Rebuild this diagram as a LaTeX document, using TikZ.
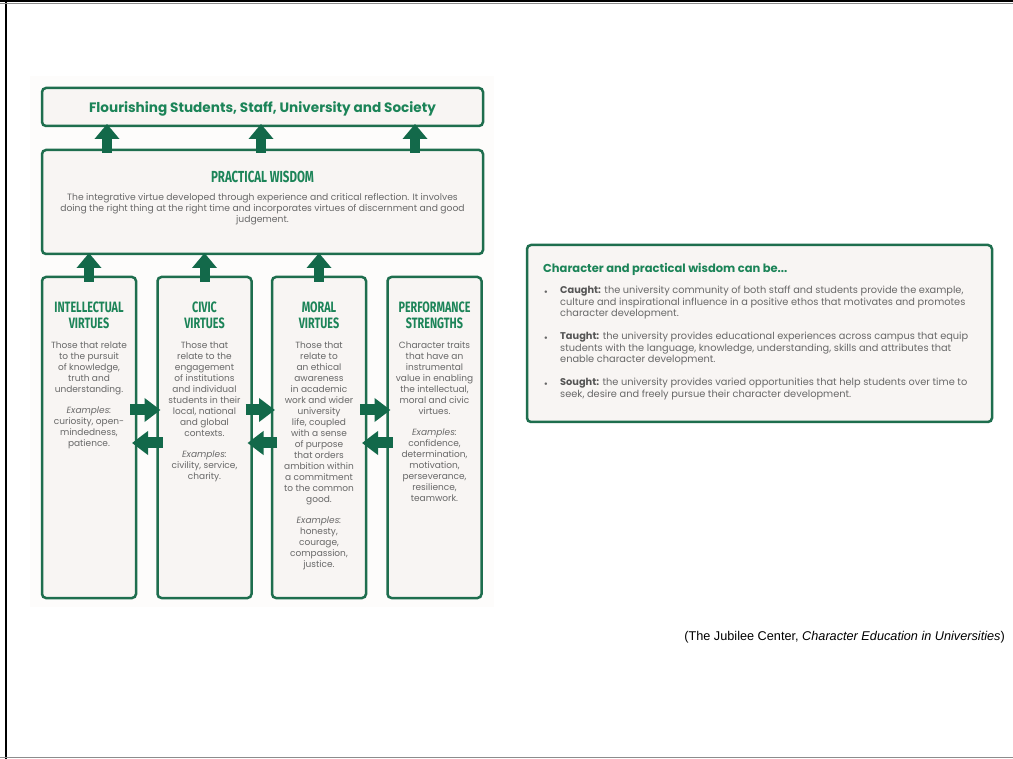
\documentclass[tikz,border=0pt]{standalone}
\usepackage{fontspec}
\setmainfont{Poppins}
\newfontfamily\headfont[FakeStretch=0.72]{Fira Sans}
\newfontfamily\citefont{Liberation Sans}
\usetikzlibrary{arrows.meta,calc}
\definecolor{gborder}{HTML}{1E6E4E}
\definecolor{garrow}{HTML}{13694A}
\definecolor{gtitle}{HTML}{1C8458}
\definecolor{gtext}{HTML}{686868}
\definecolor{gdark}{HTML}{555555}
\definecolor{bfill}{HTML}{F8F5F3}
\definecolor{pagefill}{HTML}{FDFCFB}
\tikzset{%
  gbox/.style={draw=gborder,line width=2.5pt,fill=bfill,rounded corners=4pt,inner sep=0,outer sep=0},
  uparrow/.style={draw=garrow,line width=10pt,-{Triangle[width=24pt,length=15pt]}},
  sidearrow/.style={draw=garrow,line width=11pt,-{Triangle[width=23pt,length=16pt]}},
  colhead/.style={font=\headfont\bfseries\fontsize{15}{16}\selectfont,text=gtitle,align=center,inner sep=0},
  colbody/.style={font=\fontsize{9}{11}\selectfont,text=gtext,align=center,inner sep=0,anchor=north},
  rbody/.style={font=\fontsize{9.8}{11.6}\selectfont,text=gtext,align=left,inner sep=0,anchor=north west}
}
\newcommand\exs[1]{\\[10pt]\itshape #1}

\begin{document}
\begin{tikzpicture}[x=1pt,y=-1pt]
  \useasboundingbox[fill=white] (0,0) rectangle (1013,759);
  % slide frame
  \draw[black,line width=2.5pt] (6,0) -- (6,759);
  \draw[black,line width=2pt] (0,1.2) -- (1013,1.2);
  \draw[black!45,line width=1pt] (0,3.5) -- (1013,3.5);
  \draw[black!45,line width=1.5pt] (0,757.5) -- (1013,757.5);
  \fill[pagefill] (30,76) rectangle (494,607);

  % top boxes
  \node[gbox,minimum width=441,minimum height=38,text=gtitle,
    font=\bfseries\fontsize{13.6}{15}\selectfont] (flour) at (262.5,107) {};
  \node[text=gtitle,inner sep=0,font=\bfseries\fontsize{13.6}{15}\selectfont] (flourtxt) at (262.5,108.5)
    {Flourishing Students, Staff, University and Society};
  \node[gbox,minimum width=441,minimum height=104] (pw) at (262.5,202) {};
  \node[colhead,font=\headfont\bfseries\fontsize{16}{18}\selectfont] (pwtitle) at (262.5,177) {PRACTICAL WISDOM};
  \node[colbody,font=\fontsize{9.2}{11}\selectfont] (pwbody) at (262.5,193.5)
    {The integrative virtue developed through experience and critical reflection. It involves\\
     doing the right thing at the right time and incorporates virtues of discernment and good\\
     judgement.};

  % four columns
  \foreach \n/\x in {intel/89,civic/204.5,moral/319,perf/434.5}
    \node[gbox,minimum width=94,minimum height=321] (\n) at (\x,437.5) {};
  \node[colhead] (intelhead) at (89,315) {INTELLECTUAL\\VIRTUES};
  \node[colhead] (civichead) at (204.5,315) {CIVIC\\VIRTUES};
  \node[colhead] (moralhead) at (319,315) {MORAL\\VIRTUES};
  \node[colhead] (perfhead) at (434.5,315) {PERFORMANCE\\STRENGTHS};
  \node[colbody] (inteltxt) at (89,341.5) {Those that relate\\to the pursuit\\of knowledge,\\truth and\\understanding.%
    \exs{Examples:\\curiosity, open-\\mindedness,\\patience.}};
  \node[colbody] (civictxt) at (204.5,341.5) {Those that\\relate to the\\engagement\\of institutions\\and individual\\students in their\\local, national\\and global\\contexts.%
    \exs{Examples:\\civility, service,\\charity.}};
  \node[colbody] (moraltxt) at (319,341.5) {Those that\\relate to\\an ethical\\awareness\\in academic\\work and wider\\university\\life, coupled\\with a sense\\of purpose\\that orders\\ambition within\\a commitment\\to the common\\good.%
    \exs{Examples:\\honesty,\\courage,\\compassion,\\justice.}};
  \node[colbody] (perftxt) at (434.5,341.5) {Character traits\\that have an\\instrumental\\value in enabling\\the intellectual,\\moral and civic\\virtues.%
    \exs{Examples:\\confidence,\\determination,\\motivation,\\perseverance,\\resilience,\\teamwork.}};

  % arrows
  \foreach \x in {107,261,415}
    \draw[uparrow] ([yshift=-3pt]pw.north -| \x,0) -- ([yshift=2pt]flour.south -| \x,0);
  \foreach \c in {intel,civic,moral}
    \draw[uparrow] ([yshift=-5pt]\c.north) -- ([yshift=1pt]pw.south -| \c.north);
  \foreach \a/\b in {intel/civic,civic/moral,moral/perf}{
    \draw[sidearrow] ([xshift=-6pt,yshift=27.5pt]\a.east) -- ([xshift=3pt,yshift=27.5pt]\b.west);
    \draw[sidearrow] ([xshift=5pt,yshift=-5.5pt]\b.west) -- ([xshift=-4pt,yshift=-5.5pt]\a.east);
  }

  % right box
  \node[gbox,minimum width=465,minimum height=177] (rbox) at (759.5,333.5) {};
  \node[anchor=west,inner sep=0,text=gtitle,font=\bfseries\fontsize{11.5}{13}\selectfont] (rtitle) at (543,269)
    {Character and practical wisdom can be...};
  \foreach \y in {293,339,385}
    \node[text=gtext,font=\fontsize{10}{10}\selectfont,inner sep=0] (dot\y) at (546,\y) {•};
  \node[rbody] (caught) at (560,286) {\textcolor{gdark}{\bfseries Caught:} the university community of both staff and students provide the example,\\
    culture and inspirational influence in a positive ethos that motivates and promotes\\
    character development.};
  \node[rbody] (taught) at (560,332) {\textcolor{gdark}{\bfseries Taught:} the university provides educational experiences across campus that equip\\
    students with the language, knowledge, understanding, skills and attributes that\\
    enable character development.};
  \node[rbody] (sought) at (560,378) {\textcolor{gdark}{\bfseries Sought:} the university provides varied opportunities that help students over time to\\
    seek, desire and freely pursue their character development.};

  % source
  \node[anchor=east,inner sep=0,font=\citefont\fontsize{12.7}{14}\selectfont] (cite) at (1005,637)
    {(The Jubilee Center, \textit{Character Education in Universities})};
\end{tikzpicture}
\end{document}
